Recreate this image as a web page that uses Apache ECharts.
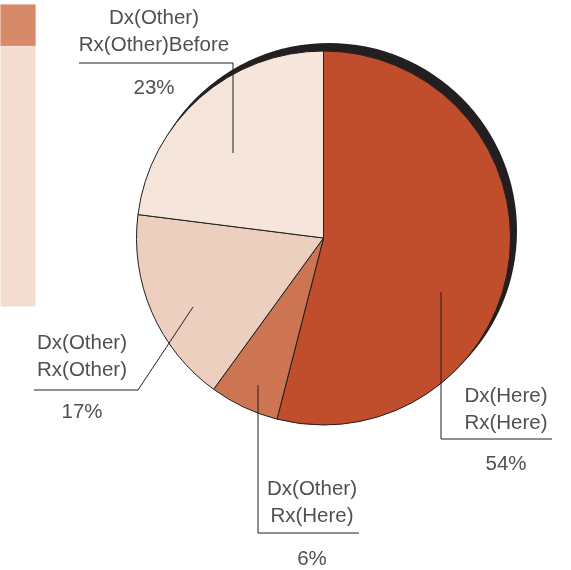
<!DOCTYPE html>
<html>
<head>
<meta charset="utf-8">
<script src="https://cdn.jsdelivr.net/npm/echarts@6/dist/echarts.min.js"></script>
<style>
html,body{margin:0;padding:0;background:#fff;}
#chart{width:571px;height:570px;}
</style>
</head>
<body>
<div id="chart"></div>
<script>
// ---- data ----
const categories = ['Dx(Here)\nRx(Here)', 'Dx(Other)\nRx(Here)', 'Dx(Other)\nRx(Other)', 'Dx(Other)\nRx(Other)Before'];
const values = [54, 6, 17, 23];
const sliceColors = ['#C04D2C', '#CD7553', '#ECCFBE', '#F6E5DB'];
// partial stacked bar visible at the left edge
const sideBarCategories = [''];
const sideBarLower = [86];
const sideBarUpper = [14];

// ---- layout (annotation placement) ----
const labelLayouts = [
  {x: 506, y1: 396, pctY: 464, path: [[441, 292], [441, 439], [552, 439]]},
  {x: 312, y1: 489, pctY: 559, path: [[258, 385], [258, 533], [359, 533]]},
  {x: 82,  y1: 343, pctY: 412, path: [[193, 307], [138, 390], [34, 390]]},
  {x: 154, y1: 18,  pctY: 88,  path: [[233, 153], [233, 63], [79, 63]]}
];

const chart = echarts.init(document.getElementById('chart'), null, {renderer: 'canvas'});
const total = values.reduce((a, b) => a + b, 0);
const textColor = '#4F5052';
const font = '20.5px "Liberation Sans", Arial, sans-serif';

const graphics = [];
categories.forEach((name, i) => {
  const L = labelLayouts[i];
  graphics.push({
    type: 'polyline', silent: true, z: 100,
    shape: {points: L.path},
    style: {stroke: '#231F20', lineWidth: 1, fill: null}
  });
  name.split('\n').forEach((line, k) => {
    graphics.push({
      type: 'text', silent: true, z: 100,
      style: {text: line, x: L.x, y: L.y1 + k * 27, align: 'center', verticalAlign: 'middle', fill: textColor, font: font}
    });
  });
  graphics.push({
    type: 'text', silent: true, z: 100,
    style: {text: Math.round(values[i] / total * 100) + '%', x: L.x, y: L.pctY, align: 'center', verticalAlign: 'middle', fill: textColor, font: font}
  });
});

chart.setOption({
  animation: false,
  backgroundColor: '#fff',
  grid: {left: 0, top: 4, width: 36, height: 303, containLabel: false},
  xAxis: {type: 'category', data: sideBarCategories, show: false},
  yAxis: {type: 'value', min: 0, max: 100, show: false},
  series: [
    {
      type: 'bar', stack: 's', data: sideBarLower, barWidth: '100%', silent: true,
      itemStyle: {color: '#F3DDD0', borderColor: '#fff', borderWidth: 0.5}
    },
    {
      type: 'bar', stack: 's', data: sideBarUpper, barWidth: '100%', silent: true,
      itemStyle: {color: '#D68A6A', borderColor: '#F3DDD0', borderWidth: 0.5}
    },
    {
      type: 'pie', silent: true, center: [329, 231], radius: 188, z: 1,
      label: {show: false}, labelLine: {show: false},
      data: [{value: 1, name: 'shadow'}],
      itemStyle: {color: '#231F20'}
    },
    {
      type: 'pie', silent: true, center: [323.5, 238], radius: 187, z: 2,
      startAngle: 90, clockwise: true,
      label: {show: false}, labelLine: {show: false},
      itemStyle: {borderColor: '#231F20', borderWidth: 1},
      data: categories.map((c, i) => ({name: c, value: values[i], itemStyle: {color: sliceColors[i]}}))
    }
  ],
  graphic: graphics
});
</script>
</body>
</html>
